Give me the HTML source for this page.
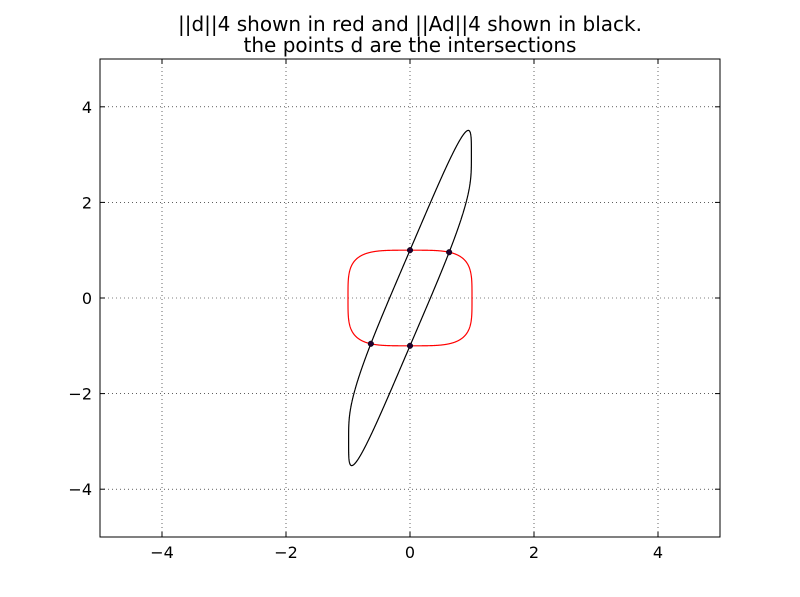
<!DOCTYPE html>
<html><head><meta charset="utf-8"><style>
body{margin:0;background:#fff}
svg{display:block;font-family:"DejaVu Sans","Liberation Sans",sans-serif}
</style></head><body>
<svg id="c" width="800" height="597"></svg>
<script>
const xTicks=[-4,-2,0,2,4];
const yTicks=[-4,-2,0,2,4];
const xDomain=[-5,5];
const yDomain=[-5,5];
const normP=[4];
const matrixRow1=[0,0.99];
const matrixRow2=[1,3];
const titleLines=["||d||4 shown in red and ||Ad||4 shown in black.","the points d are the intersections"];

const L=100,R=720,T=59,B=537;
const sx=v=>L+(v-xDomain[0])/(xDomain[1]-xDomain[0])*(R-L);
const sy=v=>B-(v-yDomain[0])/(yDomain[1]-yDomain[0])*(B-T);
const svg=document.getElementById('c');
const NS='http://www.w3.org/2000/svg';
function mk(tag,attrs,parent){const e=document.createElementNS(NS,tag);for(const k in attrs)e.setAttribute(k,attrs[k]);(parent||svg).appendChild(e);return e;}
const p=normP[0];
function ball(t){const c=Math.cos(t),s=Math.sin(t);return [Math.sign(c)*Math.pow(Math.abs(c),2/p),Math.sign(s)*Math.pow(Math.abs(s),2/p)];}
function blackPt(t){const u=ball(t);return [matrixRow1[0]*u[0]+matrixRow1[1]*u[1],matrixRow2[0]*u[0]+matrixRow2[1]*u[1]];}
const N=2000;

titleLines.forEach((t,i)=>{const e=mk('text',{x:410,y:31+i*21,'text-anchor':'middle','font-size':20});e.textContent=t;

});

xTicks.forEach(v=>{const l=mk('line',{x1:sx(v),x2:sx(v),y1:T,y2:B,stroke:'#000','stroke-width':0.6,'stroke-dasharray':'1,3'});

});
yTicks.forEach(v=>{const l=mk('line',{x1:L,x2:R,y1:sy(v),y2:sy(v),stroke:'#000','stroke-width':0.6,'stroke-dasharray':'1,3'});

});

function path(fn,color,name){let d='';for(let i=0;i<=N;i++){const q=fn(i/N*2*Math.PI);d+=(i?'L':'M')+sx(q[0]).toFixed(2)+','+sy(q[1]).toFixed(2);}
const e=mk('path',{d:d,fill:'none',stroke:color,'stroke-width':1.2});

}
path(ball,'#f00','red-norm-curve');
path(blackPt,'#000','black-norm-curve');

const f=t=>{const q=blackPt(t);return Math.pow(Math.abs(q[0]),p)+Math.pow(Math.abs(q[1]),p)-1;};
for(let i=0;i<N;i++){let a=i/N*2*Math.PI,b=(i+1)/N*2*Math.PI;if(f(a)*f(b)<=0&&f(a)!==f(b)){for(let k=0;k<40;k++){const m=(a+b)/2;if(f(a)*f(m)<=0)b=m;else a=m;}
const q=blackPt(a);const c=mk('circle',{cx:sx(q[0]),cy:sy(q[1]),r:2.8,fill:'#200030',stroke:'#000','stroke-width':0.5});

}}

const fr=mk('rect',{x:L,y:T,width:R-L,height:B-T,fill:'none',stroke:'#000','stroke-width':1});


xTicks.forEach(v=>{mk('line',{x1:sx(v),x2:sx(v),y1:B,y2:B-5,stroke:'#000'});mk('line',{x1:sx(v),x2:sx(v),y1:T,y2:T+5,stroke:'#000'});
const t=mk('text',{x:sx(v),y:B+21,'text-anchor':'middle','font-size':16});t.textContent=(v<0?'\u2212':'')+Math.abs(v);

});
yTicks.forEach(v=>{mk('line',{x1:L,x2:L+5,y1:sy(v),y2:sy(v),stroke:'#000'});mk('line',{x1:R,x2:R-5,y1:sy(v),y2:sy(v),stroke:'#000'});
const t=mk('text',{x:L-8,y:sy(v)+6,'text-anchor':'end','font-size':16});t.textContent=(v<0?'\u2212':'')+Math.abs(v);

});
</script>
</body></html>
